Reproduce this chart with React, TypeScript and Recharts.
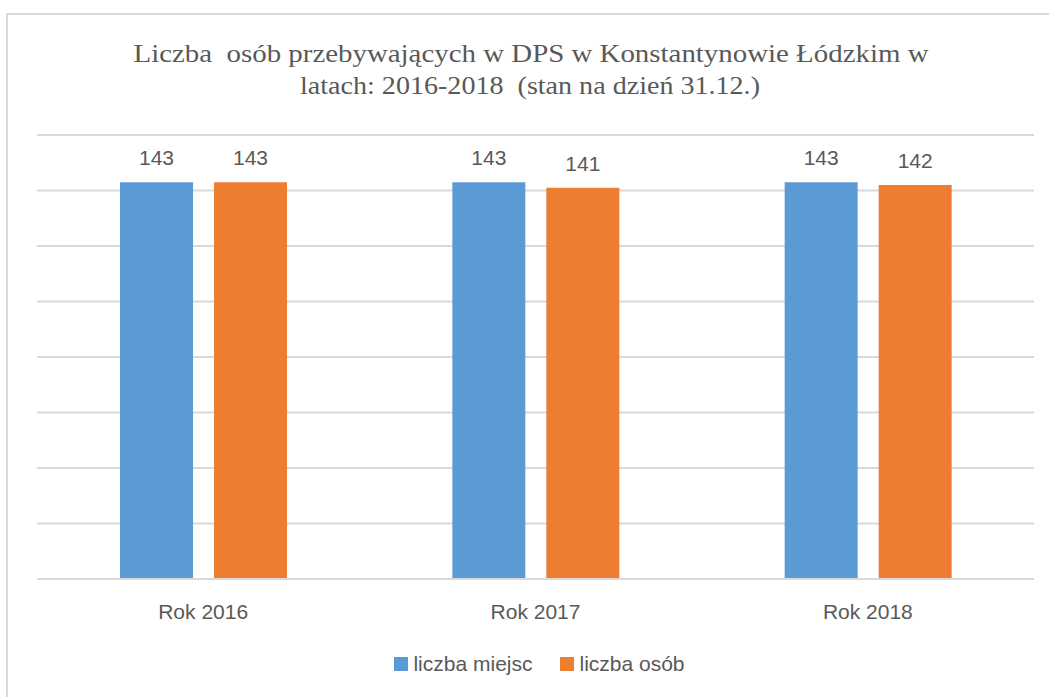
import React from "react";
import { BarChart, Bar, XAxis, YAxis, CartesianGrid, Legend, LabelList } from "recharts";

const categories = ["Rok 2016", "Rok 2017", "Rok 2018"];
const liczbaMiejsc = [143, 143, 143];
const liczbaOsob = [143, 141, 142];
const yTicks = [0, 20, 40, 60, 80, 100, 120, 140, 160];
const titleLines = [
  "Liczba  osób przebywających w DPS w Konstantynowie Łódzkim w",
  "latach: 2016-2018  (stan na dzień 31.12.)",
];

const data = categories.map((c, i) => ({
  name: c,
  miejsc: liczbaMiejsc[i],
  osob: liczbaOsob[i],
}));

const FONT = "'Liberation Sans', Arial, sans-serif";

const renderLegend = (props: any) => {
  const { payload } = props;
  return (
    <div style={{ display: "flex", justifyContent: "center", gap: 28, fontFamily: FONT, fontSize: 21, color: "#595959", paddingTop: 3, paddingLeft: 8 }}>
      {payload.map((p: any) => (
        <div key={p.value} style={{ display: "flex", alignItems: "center" }}>
          <span style={{ display: "inline-block", width: 14, height: 14, background: p.color, marginRight: 5 }} />
          <span>{p.value}</span>
        </div>
      ))}
    </div>
  );
};

export default function App() {
  return (
    <div style={{ position: "absolute", left: 0, top: 0, width: 1049, height: 697, overflow: "hidden", background: "#fff" }}>
      <div style={{ position: "absolute", left: 6, top: 13, width: 1100, height: 750, border: "2px solid #d9d9d9", boxSizing: "border-box" }} />
      <svg style={{ position: "absolute", left: 0, top: 0 }} width={1049} height={120}>
        <text x={531} y={62} textAnchor="middle" fontFamily="'Liberation Serif', 'Times New Roman', serif" fontSize={26} fill="#595959" textLength={795} lengthAdjust="spacingAndGlyphs" style={{ whiteSpace: "pre" }}>
          {titleLines[0]}
        </text>
        <text x={530} y={94} textAnchor="middle" fontFamily="'Liberation Serif', 'Times New Roman', serif" fontSize={26} fill="#595959" textLength={460} lengthAdjust="spacingAndGlyphs" style={{ whiteSpace: "pre" }}>
          {titleLines[1]}
        </text>
      </svg>
      <div style={{ position: "absolute", left: 0, top: 0 }}>
        <BarChart
          width={1049}
          height={697}
          data={data}
          margin={{ top: 135, right: 15, left: 37, bottom: 0 }}
          barSize={73}
          barGap={21}
        >
          <CartesianGrid vertical={false} stroke="#d9d9d9" strokeWidth={2} />
          <YAxis hide domain={[0, 160]} ticks={yTicks} width={0} />
          <XAxis
            dataKey="name"
            axisLine={{ stroke: "#d9d9d9", strokeWidth: 2 }}
            tickLine={false}
            tickMargin={19}
            height={70}
            tick={{ fill: "#595959", fontSize: 21, fontFamily: FONT }}
          />
          <Legend verticalAlign="bottom" height={48} content={renderLegend} />
          <Bar dataKey="miejsc" name="liczba miejsc" fill="#5B9BD5" isAnimationActive={false}>
            <LabelList dataKey="miejsc" position="top" offset={17} fill="#595959" fontSize={21} fontFamily={FONT} />
          </Bar>
          <Bar dataKey="osob" name="liczba osób" fill="#ED7D31" isAnimationActive={false}>
            <LabelList dataKey="osob" position="top" offset={17} fill="#595959" fontSize={21} fontFamily={FONT} />
          </Bar>
        </BarChart>
      </div>
    </div>
  );
}
